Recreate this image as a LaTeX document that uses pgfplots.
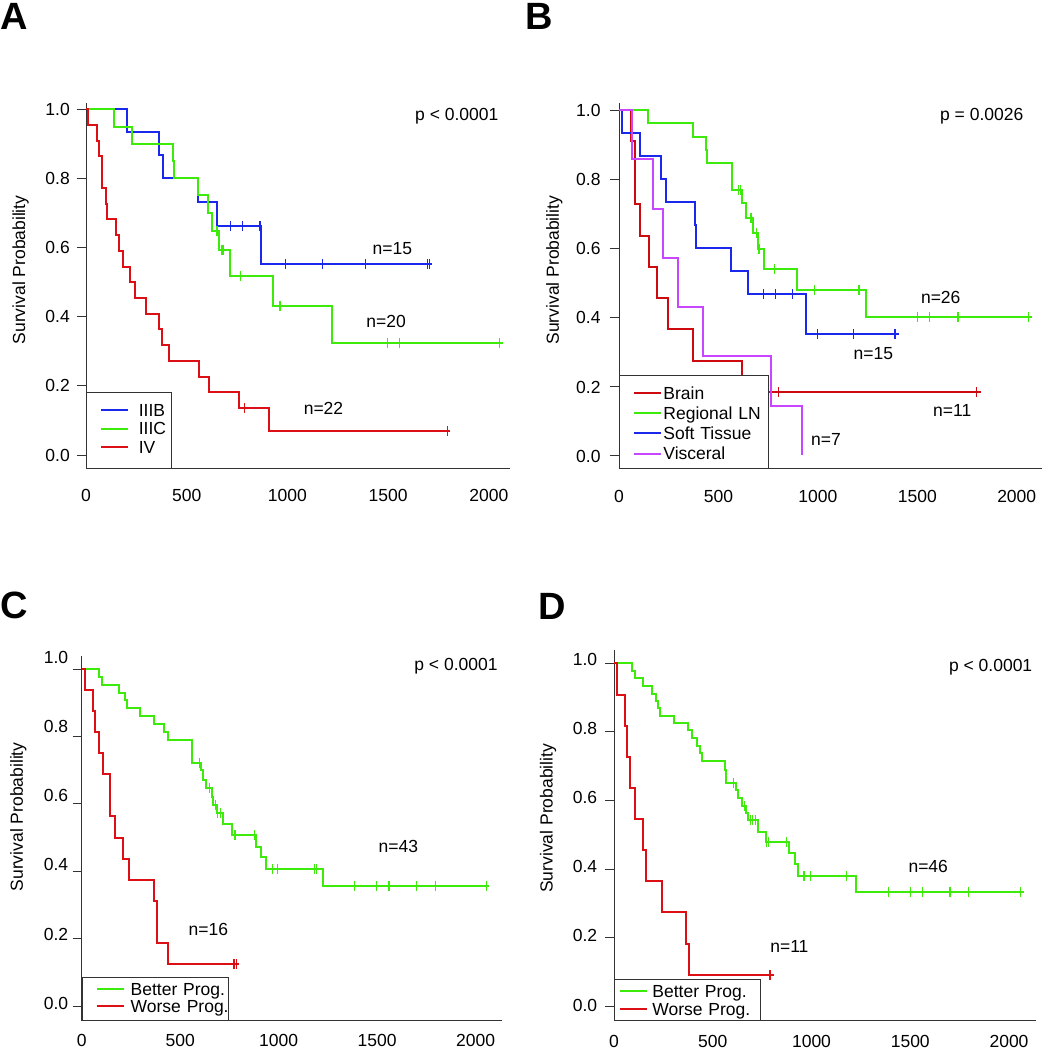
\documentclass[border=0pt]{standalone}
\usepackage{fontspec}
\setmainfont{Liberation Sans}
\usepackage{pgfplots}
\pgfplotsset{compat=1.18}
\definecolor{kmgreen}{RGB}{60,235,10}
\definecolor{kmblue}{RGB}{25,40,235}
\definecolor{kmred}{RGB}{220,15,20}
\definecolor{kmbrain}{RGB}{205,10,15}
\definecolor{kmpurple}{RGB}{200,70,255}
\newcommand{\fs}{\fontsize{17.5}{20}\selectfont}
\tikzset{ann/.style={font=\fs, inner sep=0pt, text height=12.6pt, text depth=0pt, anchor=center}}
\pgfplotsset{
  km/.style={
    scale only axis, axis lines=left,
    axis line style={-, draw=black!80, line width=1pt},
    xmin=0,
    xtick={0,500,1000,1500,2000}, ytick={0,0.2,0.4,0.6,0.8,1},
    tick align=outside, major tick length=9pt,
    x tick style={draw=none},
    y tick style={draw=black!80, line width=0.8pt},
    /pgf/number format/assume math mode=true,
    /pgf/number format/1000 sep={},
    yticklabel style={/pgf/number format/fixed, /pgf/number format/fixed zerofill, /pgf/number format/precision=1},
    tick label style={font=\fs, inner sep=0pt},
    label style={font=\fs},
    ylabel={Survival Probability},
    legend cell align=left,
    every axis plot/.append style={line width=2pt},
  },
  cens/.style={only marks, mark=|, mark size=5pt, mark options={line width=1.1pt}, forget plot},
}
% legend line drawn in the colour of its curve
\newcommand{\legline}[3]{\path (0pt,0pt); \draw[draw=#1, line width=2pt] (#2,#3) -- ++(27pt,0pt);}
\begin{document}
\begin{tikzpicture}
\useasboundingbox (0pt,0pt) rectangle (1048pt,1050pt);
\node[anchor=base west, inner sep=0pt, font=\fontsize{38}{40}\selectfont\bfseries] at (0pt,1020pt) {A};
\node[anchor=base west, inner sep=0pt, font=\fontsize{38}{40}\selectfont\bfseries] at (525pt,1020pt) {B};
\node[anchor=base west, inner sep=0pt, font=\fontsize{38}{40}\selectfont\bfseries] at (0pt,431.7pt) {C};
\node[anchor=base west, inner sep=0pt, font=\fontsize{38}{40}\selectfont\bfseries] at (538.3pt,430.7pt) {D};

% ---------------- A ----------------
\begin{axis}[km, at={(86pt,581pt)}, anchor=south west, width=424pt, height=366pt,
  xmax=2105, ymin=-0.0405, ymax=1.018,
  yticklabel style={xshift=-7pt},
  xticklabel style={yshift=-10.7pt},
  ylabel style={at={(axis description cs:-0.154,0.544)}, anchor=center},
  legend style={at={(0,0)}, anchor=south west, draw=black!80, line width=0.8pt,
    inner xsep=0pt, inner ysep=11.2pt, column sep=9.4pt, row sep=2.1pt,
    nodes={inner sep=0pt, text height=12.5pt, text depth=3.9pt, text width=32.6pt, font=\fs}},
]
\addplot[kmblue, const plot, legend image code/.code={\legline{kmblue}{14pt}{1.95pt}}] coordinates {(0,1) (202,0.933) (364,0.867) (384,0.80) (558,0.733) (649,0.662) (871,0.552) (1716,0.552)};
\addlegendentry{\mbox{IIIB}}
\addplot[kmgreen, const plot, legend image code/.code={\legline{kmgreen}{14pt}{1.95pt}}] coordinates {(0,1) (139,0.95) (227,0.90) (430,0.85) (437,0.80) (558,0.752) (605,0.70) (624,0.648) (662,0.593) (715,0.519) (927,0.432) (1223,0.323) (2070,0.323)};
\addlegendentry{\mbox{IIIC}}
\addplot[kmred, const plot, legend image code/.code={\legline{kmred}{14pt}{1.95pt}}] coordinates {(0,1) (12,0.955) (53,0.909) (65,0.864) (81,0.773) (99,0.727) (106,0.682) (147,0.636) (166,0.591) (185,0.545) (219,0.5) (243,0.455) (296,0.409) (364,0.364) (379,0.318) (414,0.273) (560,0.227) (611,0.182) (760,0.136) (909,0.068) (1808,0.068)};
\addlegendentry{\mbox{IV}}
\addplot[kmblue, cens] coordinates {(717,0.662) (776,0.662) (864,0.662) (992,0.552) (1175,0.552) (1386,0.552) (1695,0.552) (1704,0.552)};
\addplot[kmgreen, cens] coordinates {(646,0.648) (655,0.648) (675,0.593) (683,0.593) (765,0.519) (963,0.432) (1497,0.323) (1556,0.323) (2053,0.323)};
\addplot[kmred, cens] coordinates {(786,0.136) (1796,0.068)};
\node[ann] at (axis cs:1841,0.986) {p < 0.0001};
\node[ann] at (axis cs:1521,0.598) {n=15};
\node[ann] at (axis cs:1490,0.388) {n=20};
\node[ann] at (axis cs:1179,0.135) {n=22};
\end{axis}

% ---------------- B ----------------
\begin{axis}[km, at={(619pt,581pt)}, anchor=south west, width=422.7pt, height=366.3pt,
  xmax=2125.7, ymin=-0.0406, ymax=1.021,
  yticklabel style={xshift=-9.3pt, yshift=-1pt},
  xticklabel style={yshift=-11.7pt},
  ylabel style={at={(axis description cs:-0.153,0.543)}, anchor=center},
  legend style={at={(0,0)}, anchor=south west, draw=black!80, line width=0.8pt,
    inner xsep=0pt, inner ysep=8.75pt, column sep=1pt, row sep=4.3pt,
    nodes={inner sep=0pt, text height=15.8pt, text depth=0pt, text width=104.7pt, font=\fs}},
]
\addplot[kmbrain, const plot, legend image code/.code={\legline{kmbrain}{14pt}{-1.65pt}}] coordinates {(0,1) (62,0.909) (82,0.727) (106,0.636) (150,0.545) (190,0.455) (247,0.364) (371,0.273) (620,0.182) (1822,0.182)};
\addlegendentry{\mbox{Brain}}
\addplot[kmgreen, const plot, legend image code/.code={\legline{kmgreen}{14pt}{-1.65pt}}] coordinates {(0,1) (145,0.962) (371,0.923) (438,0.885) (441,0.846) (566,0.808) (570,0.769) (617,0.729) (637,0.688) (672,0.643) (697,0.596) (729,0.538) (894,0.478) (1242,0.40) (2075,0.40)};
\addlegendentry{\mbox{Regional LN}}
\addplot[kmblue, const plot, legend image code/.code={\legline{kmblue}{14pt}{-1.65pt}}] coordinates {(0,1) (14,0.933) (106,0.867) (210,0.80) (234,0.733) (383,0.667) (389,0.60) (562,0.533) (647,0.467) (940,0.35) (1410,0.35)};
\addlegendentry{\mbox{Soft Tissue}}
\addplot[kmpurple, const plot, legend image code/.code={\legline{kmpurple}{14pt}{-1.65pt}}] coordinates {(0,1) (64,0.857) (171,0.714) (222,0.571) (299,0.429) (420,0.286) (766,0.143) (920,0)};
\addlegendentry{\mbox{Visceral}}
\addplot[kmbrain, cens] coordinates {(801,0.182) (1798,0.182)};
\addplot[kmgreen, cens] coordinates {(600,0.769) (610,0.769) (659,0.688) (667,0.688) (692,0.643) (704,0.596) (782,0.538) (981,0.478) (1207,0.478) (1502,0.40) (1561,0.40) (1703,0.40) (1707,0.40) (2058,0.40)};
\addplot[kmblue, cens] coordinates {(726,0.467) (786,0.467) (874,0.467) (1000,0.35) (1178,0.35) (1388,0.35)};
\node[ann] at (axis cs:1824,0.988) {p = 0.0026};
\node[ann] at (axis cs:1618,0.457) {n=26};
\node[ann] at (axis cs:1279,0.295) {n=15};
\node[ann] at (axis cs:1676,0.130) {n=11};
\node[ann] at (axis cs:1041,0.046) {n=7};
\end{axis}

% ---------------- C ----------------
\begin{axis}[km, at={(81.7pt,29.3pt)}, anchor=south west, width=420pt, height=364.7pt,
  xmax=2132, ymin=-0.0436, ymax=1.0386,
  yticklabel style={xshift=-4.4pt, yshift={2.7pt+1.8pt*\ticknum}},
  xticklabel style={yshift=-4pt},
  ylabel style={at={(axis description cs:-0.151,0.559)}, anchor=center},
  legend style={at={(0,0)}, anchor=south west, draw=black!80, line width=0.8pt,
    inner xsep=0pt, inner ysep=4.75pt, column sep=5.6pt, row sep=0.9pt,
    nodes={inner sep=0pt, text height=13.5pt, text depth=3pt, text width=97.4pt, font=\fs}},
]
\addplot[kmgreen, const plot, legend image code/.code={\legline{kmgreen}{14pt}{1pt}}] coordinates {(0,1) (87,0.977) (104,0.953) (189,0.93) (222,0.907) (232,0.884) (297,0.86) (367,0.837) (419,0.814) (439,0.79) (558,0.755) (562,0.72) (604,0.70) (614,0.671) (629,0.646) (660,0.621) (668,0.596) (685,0.572) (716,0.54) (761,0.507) (883,0.473) (908,0.443) (935,0.408) (1223,0.357) (2070,0.357)};
\addlegendentry{\mbox{Better Prog.}}
\addplot[kmred, const plot, legend image code/.code={\legline{kmred}{14pt}{1pt}}] coordinates {(0,1) (15,0.9375) (55,0.875) (67,0.8125) (88,0.75) (109,0.6875) (142,0.625) (146,0.5625) (168,0.5) (208,0.4375) (242,0.375) (367,0.3125) (380,0.25) (383,0.1875) (440,0.125) (800,0.125)};
\addlegendentry{\mbox{Worse Prog.}}
\addplot[kmgreen, cens] coordinates {(600,0.72) (648,0.646) (680,0.596) (690,0.572) (705,0.572) (778,0.507) (875,0.507) (968,0.408) (993,0.408) (1184,0.408) (1190,0.408) (1387,0.357) (1497,0.357) (1560,0.357) (1700,0.357) (1794,0.357) (2056,0.357)};
\addplot[kmred, cens] coordinates {(773,0.125) (787,0.125)};
\node[ann] at (axis cs:1900,1.014) {p < 0.0001};
\node[ann] at (axis cs:1607,0.473) {n=43};
\node[ann] at (axis cs:643,0.228) {n=16};
\end{axis}

% ---------------- D ----------------
\begin{axis}[km, at={(614pt,29.3pt)}, anchor=south west, width=422pt, height=370.7pt,
  xmax=2136.7, ymin=-0.0429, ymax=1.039,
  yticklabel style={xshift=-7.7pt, yshift={1pt+0.6pt*\ticknum}},
  xticklabel style={yshift=-5.7pt},
  ylabel style={at={(axis description cs:-0.156,0.546)}, anchor=center},
  legend style={at={(0,0)}, anchor=south west, draw=black!80, line width=0.8pt,
    inner xsep=0pt, inner ysep=4.15pt, column sep=4pt, row sep=2.1pt,
    nodes={inner sep=0pt, text height=14.5pt, text depth=1pt, text width=108.3pt, font=\fs}},
]
\addplot[kmgreen, const plot, legend image code/.code={\legline{kmgreen}{5pt}{-0.5pt}}] coordinates {(0,1) (89,0.978) (106,0.956) (149,0.935) (194,0.912) (211,0.890) (225,0.869) (233,0.846) (304,0.825) (376,0.805) (393,0.781) (421,0.760) (436,0.737) (447,0.716) (560,0.689) (565,0.652) (616,0.630) (630,0.606) (647,0.584) (670,0.562) (676,0.543) (728,0.509) (768,0.48) (885,0.446) (915,0.414) (932,0.379) (1225,0.333) (2075,0.333)};
\addlegendentry{\mbox{Better Prog.}}
\addplot[kmred, const plot, legend image code/.code={\legline{kmred}{5pt}{-0.5pt}}] coordinates {(0,1) (14,0.909) (56,0.818) (68,0.727) (81,0.636) (106,0.545) (145,0.455) (162,0.364) (245,0.273) (365,0.182) (381,0.091) (810,0.091)};
\addlegendentry{\mbox{Worse Prog.}}
\addplot[kmgreen, cens] coordinates {(605,0.652) (660,0.584) (690,0.543) (700,0.543) (718,0.543) (773,0.48) (780,0.48) (875,0.48) (962,0.379) (993,0.379) (1178,0.379) (1389,0.333) (1499,0.333) (1563,0.333) (1701,0.333) (1705,0.333) (1794,0.333) (2056,0.333)};
\addplot[kmred, cens] coordinates {(790,0.091)};
\node[ann] at (axis cs:1907,0.995) {p < 0.0001};
\node[ann] at (axis cs:1591,0.409) {n=46};
\node[ann] at (axis cs:888,0.175) {n=11};
\end{axis}
\end{tikzpicture}
\end{document}
